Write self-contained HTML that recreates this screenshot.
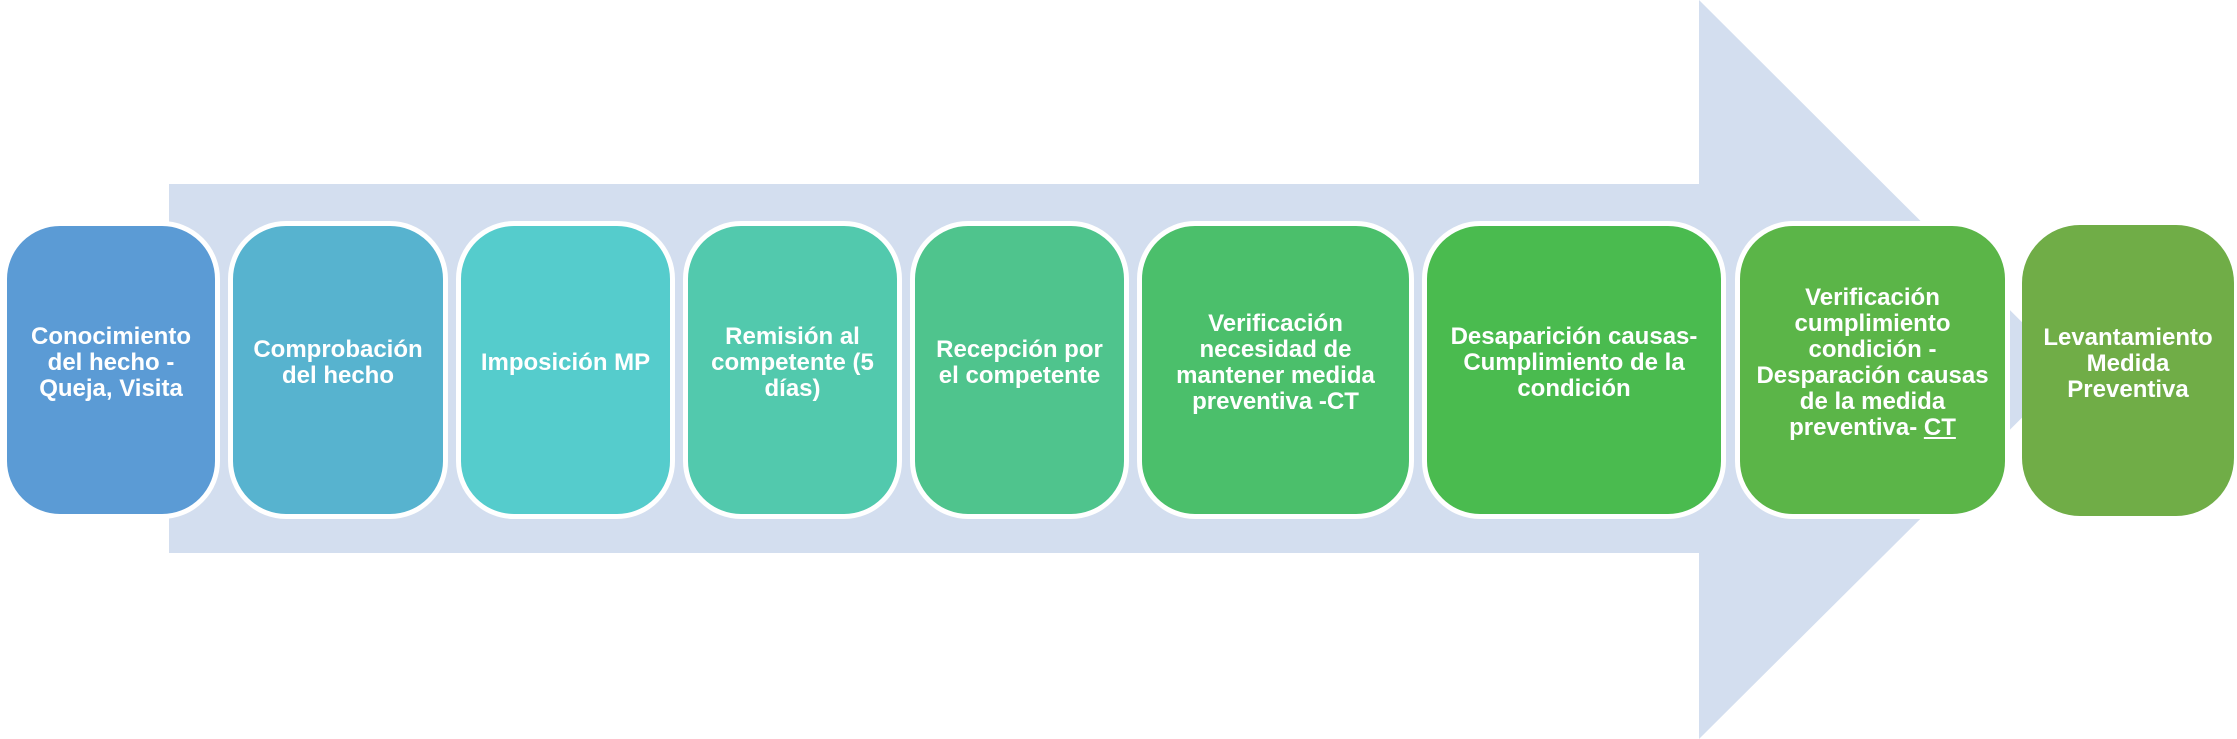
<!DOCTYPE html>
<html><head><meta charset="utf-8"><style>
html,body{margin:0;padding:0;background:#fff;}
body{width:2237px;height:739px;position:relative;overflow:hidden;font-family:"Liberation Sans",sans-serif;}
.b{position:absolute;top:221px;height:298px;box-sizing:border-box;border:5px solid #fff;border-radius:58px;display:flex;align-items:center;justify-content:center;text-align:center;color:#fff;font-weight:bold;font-size:24px;line-height:26px;padding:0 8px 14px;}
.b span{display:block;}
u{text-decoration:underline;}
</style></head><body>
<svg width="2237" height="739" style="position:absolute;left:0;top:0">
<polygon points="169,184 1699,184 1699,0 2070,370 1699,739 1699,553 169,553" fill="#d3deef"/>
</svg>
<div class="b" style="left:2px;width:218px;background:#5b9bd5"><span>Conocimiento del hecho - Queja, Visita</span></div>
<div class="b" style="left:228px;width:220px;background:#57b3cf"><span>Comprobación del hecho</span></div>
<div class="b" style="left:456px;width:219px;background:#55cccc"><span>Imposición MP</span></div>
<div class="b" style="left:683px;width:219px;background:#52c9ad"><span>Remisión al competente (5 días)</span></div>
<div class="b" style="left:910px;width:219px;background:#4fc48d"><span>Recepción por el competente</span></div>
<div class="b" style="left:1137px;width:277px;background:#4bbf6b"><span>Verificación necesidad de mantener medida preventiva -CT</span></div>
<div class="b" style="left:1422px;width:304px;background:#4abb4f"><span>Desaparición causas- Cumplimiento de la condición</span></div>
<div class="b" style="left:1735px;width:275px;background:#5bb548"><span>Verificación cumplimiento condición - Desparación causas de la medida preventiva- <u>CT</u></span></div>
<div class="b" style="left:2022px;width:212px;top:225px;height:291px;border:none;background:#70ad47"><span>Levantamiento Medida Preventiva</span></div>
</body></html>
